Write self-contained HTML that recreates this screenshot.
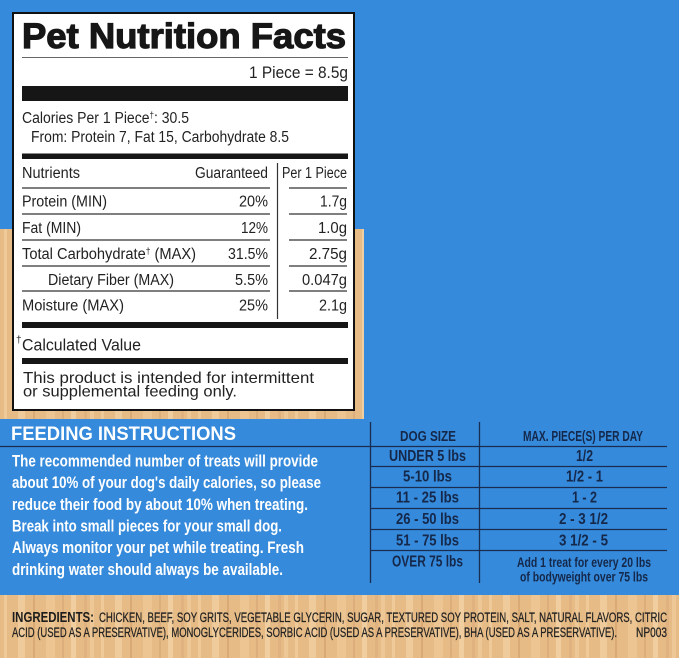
<!DOCTYPE html>
<html>
<head>
<meta charset="utf-8">
<style>
html,body{margin:0;padding:0;background:#358ADB;}
svg{display:block;}
text{font-family:"Liberation Sans", Arial, sans-serif;}
</style>
</head>
<body>
<svg width="679" height="658" viewBox="0 0 679 658" xmlns="http://www.w3.org/2000/svg">
<defs>
<pattern id="wood" patternUnits="userSpaceOnUse" x="0" y="0" width="97" height="200">
<rect width="97" height="200" fill="#e6bb86"/>
<rect x="4" width="3" height="200" fill="#efc997"/>
<rect x="18" width="7" height="200" fill="#efcb9b"/>
<rect x="33" width="2" height="200" fill="#d9aa76"/>
<rect x="46" width="9" height="200" fill="#ecc592"/>
<rect x="62" width="2" height="200" fill="#dcae7b"/>
<rect x="71" width="5" height="200" fill="#f0cea0"/>
<rect x="84" width="3" height="200" fill="#dfb27f"/>
<rect x="90" width="4" height="200" fill="#edc795"/>
</pattern>
</defs>

<rect width="679" height="658" fill="#358ADB"/>
<rect x="0" y="229" width="364" height="190" fill="url(#wood)"/>
<rect x="0" y="595" width="679" height="63" fill="url(#wood)"/>

<rect x="13" y="13" width="341" height="397" fill="#fff" stroke="#111" stroke-width="2"/>

<text x="22" y="48" font-size="35" font-weight="bold" fill="#161616" stroke="#161616" stroke-width="1.2" textLength="324" lengthAdjust="spacingAndGlyphs">Pet Nutrition Facts</text>
<line x1="22" y1="57.5" x2="348" y2="57.5" stroke="#666" stroke-width="1"/>
<text x="249" y="78" font-size="17" fill="#222" textLength="99" lengthAdjust="spacingAndGlyphs">1 Piece = 8.5g</text>
<rect x="22" y="86" width="326" height="15" fill="#161616"/>

<text x="22" y="123" font-size="15.5" fill="#222" textLength="167" lengthAdjust="spacingAndGlyphs">Calories Per 1 Piece<tspan font-size="9" dy="-5">†</tspan><tspan dy="5">: 30.5</tspan></text>
<text x="31" y="142" font-size="15.5" fill="#222" textLength="258" lengthAdjust="spacingAndGlyphs">From: Protein 7, Fat 15, Carbohydrate 8.5</text>
<rect x="22" y="153.5" width="326" height="5.5" fill="#161616"/>

<g font-size="15.5" fill="#222">
<text x="22" y="178" textLength="58" lengthAdjust="spacingAndGlyphs">Nutrients</text>
<text x="195" y="178" textLength="73" lengthAdjust="spacingAndGlyphs">Guaranteed</text>
<text x="282" y="178" textLength="65" lengthAdjust="spacingAndGlyphs">Per 1 Piece</text>

<text x="22" y="206.5" textLength="85" lengthAdjust="spacingAndGlyphs">Protein (MIN)</text>
<text x="239" y="206.5" textLength="29" lengthAdjust="spacingAndGlyphs">20%</text>
<text x="320" y="206.5" textLength="27" lengthAdjust="spacingAndGlyphs">1.7g</text>

<text x="22" y="233" textLength="59" lengthAdjust="spacingAndGlyphs">Fat (MIN)</text>
<text x="241" y="233" textLength="27" lengthAdjust="spacingAndGlyphs">12%</text>
<text x="318" y="233" textLength="29" lengthAdjust="spacingAndGlyphs">1.0g</text>

<text x="22" y="259" textLength="174" lengthAdjust="spacingAndGlyphs">Total Carbohydrate<tspan font-size="9" dy="-5">†</tspan><tspan dy="5">  (MAX)</tspan></text>
<text x="228" y="259" textLength="40" lengthAdjust="spacingAndGlyphs">31.5%</text>
<text x="309" y="259" textLength="38" lengthAdjust="spacingAndGlyphs">2.75g</text>

<text x="48" y="285" textLength="126" lengthAdjust="spacingAndGlyphs">Dietary Fiber (MAX)</text>
<text x="235" y="285" textLength="33" lengthAdjust="spacingAndGlyphs">5.5%</text>
<text x="302" y="285" textLength="45" lengthAdjust="spacingAndGlyphs">0.047g</text>

<text x="22" y="310.5" textLength="102" lengthAdjust="spacingAndGlyphs">Moisture (MAX)</text>
<text x="239" y="310.5" textLength="29" lengthAdjust="spacingAndGlyphs">25%</text>
<text x="319" y="310.5" textLength="28" lengthAdjust="spacingAndGlyphs">2.1g</text>
</g>

<g stroke="#333" stroke-width="1.2">
<line x1="22" y1="188" x2="270" y2="188"/><line x1="289" y1="188" x2="347" y2="188"/>
<line x1="22" y1="214" x2="270" y2="214"/><line x1="289" y1="214" x2="347" y2="214"/>
<line x1="22" y1="240" x2="270" y2="240"/><line x1="289" y1="240" x2="347" y2="240"/>
<line x1="22" y1="266" x2="270" y2="266"/><line x1="289" y1="266" x2="347" y2="266"/>
<line x1="22" y1="291" x2="270" y2="291"/><line x1="289" y1="291" x2="347" y2="291"/>
<line x1="277.5" y1="163" x2="277.5" y2="319"/>
</g>

<rect x="22" y="322" width="326" height="6" fill="#161616"/>
<text x="16" y="343" font-size="10" fill="#222">†</text>
<text x="22" y="350.5" font-size="17" fill="#222" textLength="119" lengthAdjust="spacingAndGlyphs">Calculated Value</text>
<rect x="22" y="358" width="326" height="6" fill="#161616"/>
<text x="23" y="383" font-size="16" fill="#222" textLength="291" lengthAdjust="spacingAndGlyphs">This product is intended for intermittent</text>
<text x="23" y="396.5" font-size="16" fill="#222" textLength="214" lengthAdjust="spacingAndGlyphs">or supplemental feeding only.</text>

<text x="11" y="440" font-size="19" font-weight="bold" fill="#fff" textLength="225" lengthAdjust="spacingAndGlyphs">FEEDING INSTRUCTIONS</text>
<line x1="0" y1="446.5" x2="667" y2="446.5" stroke="#1a2c50" stroke-width="1.3"/>
<g font-size="16.5" font-weight="bold" fill="#fff">
<text x="12" y="466.5" textLength="306" lengthAdjust="spacingAndGlyphs">The recommended number of treats will provide</text>
<text x="12" y="488" textLength="309" lengthAdjust="spacingAndGlyphs">about 10% of your dog's daily calories, so please</text>
<text x="12" y="510" textLength="296" lengthAdjust="spacingAndGlyphs">reduce their food by about 10% when treating.</text>
<text x="12" y="531.5" textLength="270" lengthAdjust="spacingAndGlyphs">Break into small pieces for your small dog.</text>
<text x="12" y="553" textLength="292" lengthAdjust="spacingAndGlyphs">Always monitor your pet while treating. Fresh</text>
<text x="12" y="575" textLength="271" lengthAdjust="spacingAndGlyphs">drinking water should always be available.</text>
</g>

<g stroke="#1a2c50" stroke-width="1.3">
<line x1="370.5" y1="422" x2="370.5" y2="583"/>
<line x1="479.5" y1="422" x2="479.5" y2="583"/>
<line x1="370" y1="466.5" x2="667" y2="466.5"/>
<line x1="370" y1="487.5" x2="667" y2="487.5"/>
<line x1="370" y1="508.5" x2="667" y2="508.5"/>
<line x1="370" y1="529.5" x2="667" y2="529.5"/>
<line x1="370" y1="550.5" x2="667" y2="550.5"/>
</g>
<g font-weight="bold" fill="#15284a">
<text x="400" y="441" font-size="14.5" textLength="56" lengthAdjust="spacingAndGlyphs">DOG SIZE</text>
<text x="523" y="441" font-size="14.5" textLength="120" lengthAdjust="spacingAndGlyphs">MAX. PIECE(S) PER DAY</text>
<g font-size="15.5">
<text x="389" y="461" textLength="77" lengthAdjust="spacingAndGlyphs">UNDER 5 lbs</text>
<text x="403" y="481.5" textLength="49" lengthAdjust="spacingAndGlyphs">5-10 lbs</text>
<text x="396" y="502.5" textLength="63" lengthAdjust="spacingAndGlyphs">11 - 25 lbs</text>
<text x="396" y="524" textLength="63" lengthAdjust="spacingAndGlyphs">26 - 50 lbs</text>
<text x="396" y="545.5" textLength="63" lengthAdjust="spacingAndGlyphs">51 - 75 lbs</text>
<text x="392" y="566.5" textLength="71" lengthAdjust="spacingAndGlyphs">OVER 75 lbs</text>
<text x="576" y="461" textLength="17" lengthAdjust="spacingAndGlyphs">1/2</text>
<text x="566" y="481.5" textLength="37" lengthAdjust="spacingAndGlyphs">1/2 - 1</text>
<text x="572" y="502.5" textLength="25" lengthAdjust="spacingAndGlyphs">1 - 2</text>
<text x="559" y="524" textLength="49" lengthAdjust="spacingAndGlyphs">2 - 3 1/2</text>
<text x="559" y="545.5" textLength="49" lengthAdjust="spacingAndGlyphs">3 1/2 - 5</text>
</g>
<g font-size="13.5">
<text x="517" y="567" textLength="134" lengthAdjust="spacingAndGlyphs">Add 1 treat for every 20 lbs</text>
<text x="520" y="581.5" textLength="128" lengthAdjust="spacingAndGlyphs">of bodyweight over 75 lbs</text>
</g>
</g>

<text x="12" y="622" font-size="15" font-weight="bold" fill="#1c1c1c" textLength="82" lengthAdjust="spacingAndGlyphs">INGREDIENTS:</text>
<g font-size="13.5" fill="#222" stroke="#222" stroke-width="0.25">
<text x="99" y="622" textLength="568" lengthAdjust="spacingAndGlyphs">CHICKEN, BEEF, SOY GRITS, VEGETABLE GLYCERIN, SUGAR, TEXTURED SOY PROTEIN, SALT, NATURAL FLAVORS, CITRIC</text>
<text x="12" y="637" textLength="605" lengthAdjust="spacingAndGlyphs">ACID (USED AS A PRESERVATIVE), MONOGLYCERIDES, SORBIC ACID (USED AS A PRESERVATIVE), BHA (USED AS A PRESERVATIVE).</text>
<text x="636" y="637" textLength="31" lengthAdjust="spacingAndGlyphs">NP003</text>
</g>
</svg>
</body>
</html>
